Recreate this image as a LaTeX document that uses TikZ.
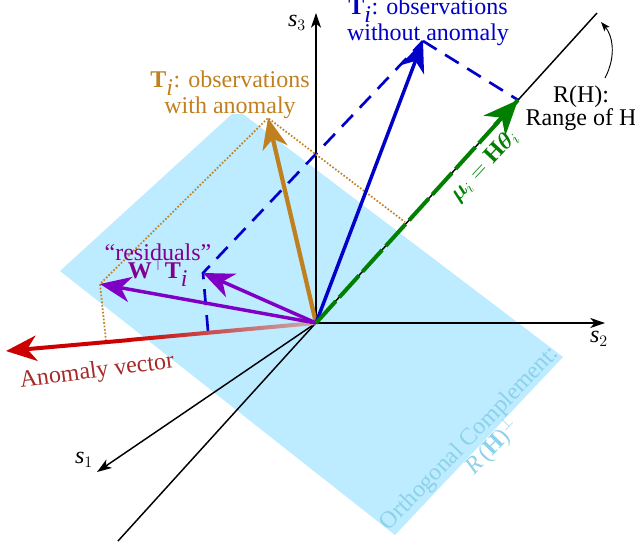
\documentclass[tikz,border=0pt]{standalone}
\usepackage{bm}
\usepackage{fontspec}
\setmainfont{Liberation Serif}
\usetikzlibrary{arrows.meta}
\definecolor{planec}{HTML}{BDEBFF}
\definecolor{bluec}{HTML}{0000C8}
\definecolor{brownc}{HTML}{C0801F}
\definecolor{purplec}{HTML}{7F00C4}
\definecolor{purpletext}{HTML}{800090}
\definecolor{greenc}{HTML}{007F00}
\definecolor{redc}{HTML}{CC0000}
\definecolor{redtext}{HTML}{A52A2A}
\definecolor{orthc}{HTML}{8CD2EA}
\tikzset{
  lab/.style={inner sep=0pt,align=center,font=\fontsize{18}{13.5}\selectfont},
  axis/.style={draw=black,line width=1.1pt,-{Stealth[length=11pt,width=7.5pt,inset=3pt]}},
  bigarrow/.style={line width=2.6pt,-{Stealth[length=23pt,width=19pt,inset=7pt]}},
  dashline/.style={draw=bluec,line width=2pt,dash pattern=on 12pt off 7.5pt},
  dotline/.style={draw=brownc,line width=1.3pt,dash pattern=on 1.2pt off 1.4pt},
}
\begin{document}
\begin{tikzpicture}[x=0.75pt,y=-0.75pt]
\useasboundingbox (0,0) rectangle (635,550);
\coordinate (O) at (316,323);
\coordinate (s3end) at (316,13);
\coordinate (s2end) at (605,323);
\coordinate (s1end) at (97,472);
\coordinate (rstart) at (118,541);
\coordinate (rend) at (597,13);
\coordinate (tn) at (423,41);
\coordinate (ta) at (268,118);
\coordinate (mu) at (518,100);
\coordinate (res) at (203,273);
\coordinate (resa) at (100,284);
\coordinate (foot) at (208,331);
\coordinate (foota) at (106,341);
\coordinate (dotend) at (405,222);
\coordinate (anomtip) at (6,351);
\coordinate (anomsolid) at (130,340);
\coordinate (curvea) at (605,78);
\coordinate (curveb) at (601,22);
\coordinate (mustart) at (495,125);
% plane
\fill[planec] (60,271) -- (232,114) -- (243,114) -- (563,357) -- (395,535) -- cycle;
% plane labels
\node[lab,text=orthc,rotate=46] (orth) at (470,439) {Orthogonal Complement:};
\node[lab,text=orthc,rotate=46] (rperp) at (492,447) {\textit{R}\,($\mathbf{H}$)$^{\perp}$};
% axes
\draw[black,line width=1.1pt] (rstart) -- (rend);
\draw[axis] (O) -- (s3end);
\draw[axis] (O) -- (s2end);
\draw[axis] (O) -- (s1end);
% dashed and dotted
\draw[dashline] (foot) -- (res) -- (tn);
\draw[dashline] (tn) -- (mu);
\draw[dotline] (foota) -- (resa) -- (ta) -- (dotend);
% red anomaly
\node[minimum width=142pt,minimum height=3pt,inner sep=0pt,rotate=5.2,
      left color=redc,right color=redc!25!gray!50,draw=none] (anomline) at (222,331.5) {};
\draw[redc,bigarrow,line width=3pt] (anomsolid) -- (anomtip);
% vectors
\draw[brownc,bigarrow,line width=3.2pt] (O) -- (ta);
\draw[bluec,bigarrow] (O) -- (tn);
\draw[purplec,bigarrow] (O) -- (res);
\draw[purplec,bigarrow] (O) -- (resa);
\draw[greenc,line width=3pt,dash pattern=on 22pt off 4pt] (O) -- (mu);
\draw[greenc,bigarrow,line width=3.2pt,-{Stealth[length=26pt,width=22pt,inset=8pt]}] (mustart) -- (mu);
\draw[-{Stealth[length=7pt,width=5pt,inset=1.5pt]},line width=0.7pt] (curvea) .. controls (617,55) and (612,35) .. (curveb);
% labels
\node[lab] (ls3) at (297,23) {\textit{s}$_{3}$};
\node[lab] (ls2) at (599,339) {\textit{s}$_{2}$};
\node[lab] (ls1) at (84,460) {\textit{s}$_{1}$};
\node[lab,text=bluec] (lblue) at (428,22) {\textbf{T}$_{\textit{i}}$: observations\\without anomaly};
\node[lab,text=brownc] (lbrown) at (230,95) {\textbf{T}$_{\textit{i}}$: observations\\with anomaly};
\node[lab] (lrange) at (581,108) {R(H):\\Range of H};
\node[lab,text=purpletext] (lresid) at (158,252) {``residuals''};
\node[lab,text=purpletext] (lw) at (158,273) {\textbf{W}$^{\top}$\textbf{T}$_{\textit{i}}$};
\node[lab,text=greenc,rotate=47] (lmu) at (484,166) {$\bm{\mu}_i=\mathbf{H}\bm{\theta}_i$};
\node[lab,text=redtext,rotate=7.5] (lanom) at (97,372) {Anomaly vector};
\end{tikzpicture}
\end{document}
